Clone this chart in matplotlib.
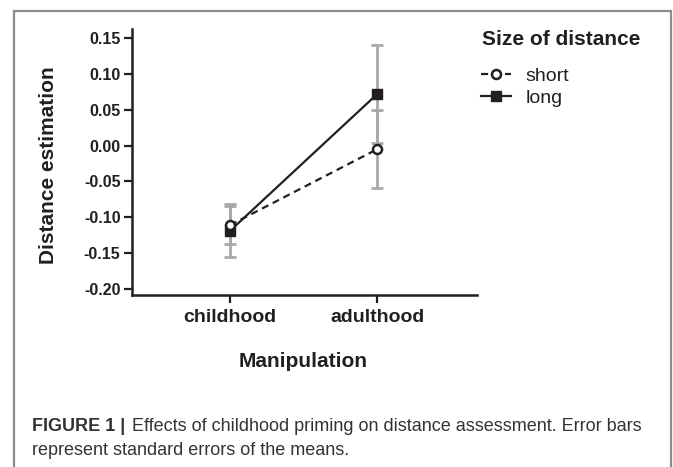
import matplotlib
matplotlib.use("Agg")
import matplotlib.pyplot as plt
from matplotlib.lines import Line2D
from matplotlib.patches import Rectangle

# ---- data ----
manipulation = ["childhood", "adulthood"]
short_mean = [-0.111, -0.005]
short_se = [0.026, 0.054]
long_mean = [-0.119, 0.072]
long_se = [0.037, 0.068]
yticks = [0.15, 0.10, 0.05, 0.00, -0.05, -0.10, -0.15, -0.20]

plt.rcParams["font.family"] = ["Liberation Sans", "DejaVu Sans"]
ink = "#231f20"
err_grey = "#a7a9ac"

fig = plt.figure(figsize=(6.73, 4.67), dpi=100)
ax = fig.add_axes([0.1957, 0.3683, 0.7088 - 0.1957, 0.9379 - 0.3683])

x = list(range(len(manipulation)))

# error bars first, in grey behind the lines
ax.errorbar(x, long_mean, yerr=long_se, fmt="none", ecolor=err_grey,
            elinewidth=2, capsize=4, capthick=2, zorder=1)
ax.errorbar(x, short_mean, yerr=short_se, fmt="none", ecolor=err_grey,
            elinewidth=2, capsize=4, capthick=2, zorder=1)

ax.plot(x, long_mean, color=ink, lw=1.6, marker="s", ms=6.5,
        mfc=ink, mec=ink, zorder=3)
ax.plot(x, short_mean, color=ink, lw=1.6, ls=(0, (3.2, 2.2)), marker="o",
        ms=6.5, mfc="white", mec=ink, mew=1.8, zorder=4)

ax.set_xlim(-0.667, 1.676)
ax.set_ylim(-0.2085, 0.1625)
ax.set_xticks(x)
ax.set_xticklabels(manipulation)
ax.set_yticks(yticks)
ax.set_yticklabels([f"{v:.2f}" for v in yticks])

for s in ["top", "right"]:
    ax.spines[s].set_visible(False)
for s in ["left", "bottom"]:
    ax.spines[s].set_linewidth(1.8)
    ax.spines[s].set_color(ink)

ax.tick_params(axis="y", length=6, width=1.6, color=ink, pad=2,
               labelsize=11.5, labelcolor=ink)
ax.tick_params(axis="x", length=6, width=1.6, color=ink, pad=4,
               labelsize=14, labelcolor=ink)
for lab in ax.get_xticklabels() + ax.get_yticklabels():
    lab.set_fontweight("bold")

ax.set_ylabel("Distance estimation", fontsize=15, fontweight="bold",
              color=ink, va="center")
ax.yaxis.set_label_coords(-0.24, 0.487)
ax.set_xlabel("Manipulation", fontsize=15, fontweight="bold",
              color=ink, va="center")
ax.xaxis.set_label_coords(0.497, -0.251)

# legend (title drawn as separate text for spacing control)
fig.text(481.7 / 673, 1 - 39.3 / 467, "Size of distance", fontsize=15,
         fontweight="bold", color=ink, va="center", ha="left")
handles = [
    Line2D([], [], color=ink, lw=1.6, ls=(0, (3.2, 2.2)), marker="o", ms=6.5,
           mfc="white", mec=ink, mew=1.8),
    Line2D([], [], color=ink, lw=1.6, marker="s", ms=6.5, mfc=ink, mec=ink),
]
leg = fig.legend(handles, ["short", "long"], loc="upper left",
                 bbox_to_anchor=(481 / 673, 1 - 67.5 / 467), frameon=False,
                 fontsize=14, handlelength=1.55, handletextpad=0.75,
                 labelspacing=0.22, borderpad=0, borderaxespad=0)
for t in leg.get_texts():
    t.set_color(ink)

# grey frame around figure + caption
fig.patches.append(Rectangle((14 / 673, -0.1), (671 - 14) / 673, 1.1 - 11 / 467,
                             transform=fig.transFigure, fill=False,
                             edgecolor="#8c8c8c", lw=1.6))

# caption
cap_y = 1 - 430.7 / 467
fig.text(31.7 / 673, cap_y, "FIGURE 1 |", fontsize=13,
         fontweight="bold", color="#333333", va="baseline")
fig.text(131.7 / 673, cap_y,
         "Effects of childhood priming on distance assessment. Error bars",
         fontsize=13, color="#333333", va="baseline")
fig.text(31.7 / 673, 1 - 455 / 467, "represent standard errors of the means.",
         fontsize=13, color="#333333", va="baseline")

fig.savefig("out.png", dpi=100)
